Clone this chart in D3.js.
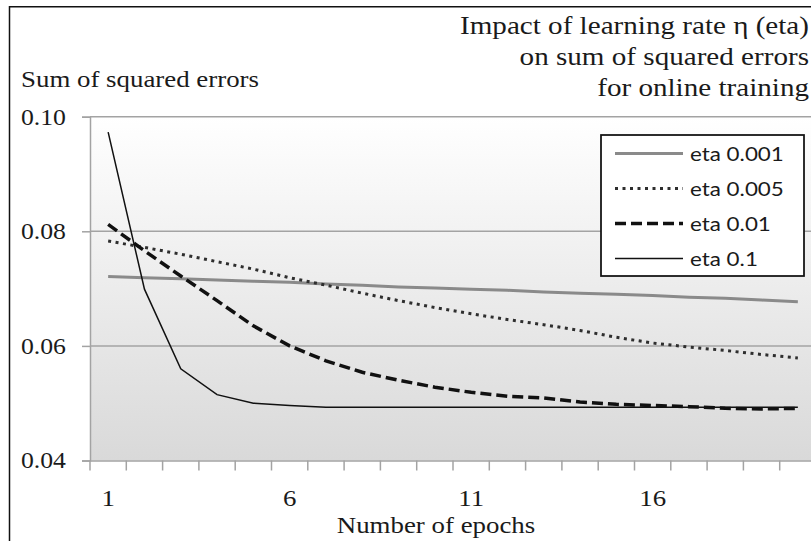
<!DOCTYPE html>
<html>
<head>
<meta charset="utf-8">
<script src="https://cdn.jsdelivr.net/npm/d3@7"></script>
<style>
  html, body { margin: 0; padding: 0; background: #fff; overflow: hidden; }
  svg { display: block; }
  .serif { font-family: "Liberation Serif", "DejaVu Serif", serif; }
  .sans { font-family: Lato, "Open Sans", "Liberation Sans", sans-serif; }
</style>
</head>
<body>
<svg id="chart" width="811" height="541"></svg>
<script>
// ---- data ----
const epochs = [1,2,3,4,5,6,7,8,9,10,11,12,13,14,15,16,17,18,19,20];
const xTickLabels = [1, 6, 11, 16];
const yTicks = [0.04, 0.06, 0.08, 0.10];
const seriesNames = ["eta 0.001", "eta 0.005", "eta 0.01", "eta 0.1"];
const eta0001 = [0.0721,0.0719,0.0717,0.0715,0.0713,0.0711,0.0708,0.0706,0.0703,0.0701,
                 0.0699,0.0697,0.0694,0.0692,0.0690,0.0688,0.0685,0.0683,0.0680,0.0677];
const eta0005 = [0.0783,0.0772,0.0760,0.0747,0.0734,0.0719,0.0706,0.0692,0.0679,0.0667,
                 0.0656,0.0646,0.0637,0.0627,0.0615,0.0605,0.0598,0.0592,0.0585,0.0579];
const eta001  = [0.0812,0.0766,0.0722,0.0679,0.0635,0.0600,0.0574,0.0554,0.0540,0.0528,
                 0.0519,0.0512,0.0509,0.0502,0.0498,0.0496,0.0494,0.0491,0.0490,0.0491];
const eta01   = [0.0973,0.0699,0.0560,0.0515,0.0500,0.0496,0.0493,0.0493,0.0493,0.0493,
                 0.0493,0.0493,0.0493,0.0493,0.0493,0.0493,0.0493,0.0493,0.0493,0.0493];
const titleLines = ["Impact of learning rate η (eta)", "on sum of squared errors", "for online training"];
const yAxisTitle = "Sum of squared errors";
const xAxisTitle = "Number of epochs";

// ---- layout ----
const svg = d3.select("#chart");
const L = 90, STEP = 36.3, T = 116.7, B = 460.5;
const R = L + STEP * epochs.length;
const SX = 1.12; // horizontal stretch of the glyphs in the reference

const x = d3.scaleBand().domain(epochs).range([L, R]).paddingInner(0).paddingOuter(0);
const y = d3.scaleLinear().domain([0.04, 0.10]).range([B, T]);

function stretchedText(parent, cls, size, ax, ay, anchor, str) {
  return parent.append("text").attr("class", cls)
    .attr("transform", `translate(${ax},${ay}) scale(${SX},1)`)
    .attr("text-anchor", anchor).attr("font-size", size).attr("fill", "#1a1a1a").text(str);
}

// outer border
svg.append("rect").attr("x", 9.5).attr("y", 6.75).attr("width", 830).attr("height", 560)
  .attr("fill", "#fff").attr("stroke", "#111").attr("stroke-width", 1.5);

// plot gradient
const defs = svg.append("defs");
const grad = defs.append("linearGradient").attr("id", "bg").attr("x1", 0).attr("y1", 0).attr("x2", 0).attr("y2", 1);
grad.append("stop").attr("offset", "0%").attr("stop-color", "#ffffff");
grad.append("stop").attr("offset", "100%").attr("stop-color", "#d9d9d9");
svg.append("rect").attr("x", L).attr("y", T).attr("width", R - L).attr("height", B - T).attr("fill", "url(#bg)");

// gridlines
svg.append("g").selectAll("line").data(yTicks.filter(v => v > 0.04)).join("line")
  .attr("x1", L).attr("x2", R).attr("y1", d => y(d)).attr("y2", d => y(d))
  .attr("stroke", "#a3a3a3").attr("stroke-width", 1.5);

// y axis
const yAxis = d3.axisLeft(y).tickValues(yTicks).tickFormat(d3.format(".2f")).tickSize(8).tickPadding(16);
const gy = svg.append("g").attr("transform", `translate(${L},0)`).call(yAxis);
gy.select(".domain").attr("stroke", "#a3a3a3").attr("stroke-width", 1.5);
gy.selectAll(".tick line").attr("stroke", "#a3a3a3").attr("stroke-width", 1.5);
gy.selectAll(".tick text").attr("class", "serif").attr("font-size", 23).attr("fill", "#1a1a1a")
  .attr("x", -24 / SX).attr("transform", `scale(${SX},1)`);

// x axis
const xAxis = d3.axisBottom(x).tickValues(xTickLabels).tickSize(0).tickPadding(28);
const gx = svg.append("g").attr("transform", `translate(0,${B})`).call(xAxis);
gx.select(".domain").attr("stroke", "#a3a3a3").attr("stroke-width", 1.5);
gx.selectAll(".tick text").attr("class", "serif").attr("font-size", 24).attr("fill", "#1a1a1a")
  .attr("transform", `scale(${SX},1)`);
svg.append("g").selectAll("line").data(epochs).join("line")
  .attr("x1", d => x(d)).attr("x2", d => x(d)).attr("y1", B).attr("y2", B + 10)
  .attr("stroke", "#a3a3a3").attr("stroke-width", 1.5);

// series
const series = [
  { name: seriesNames[0], values: eta0001, color: "#8a8a8a", width: 3,   dash: null },
  { name: seriesNames[1], values: eta0005, color: "#2e2e2e", width: 3,   dash: "3,4.5" },
  { name: seriesNames[2], values: eta001,  color: "#111111", width: 3.5, dash: "11,5" },
  { name: seriesNames[3], values: eta01,   color: "#111111", width: 1.5, dash: null }
];
const line = d3.line().x((d, i) => x(epochs[i]) + x.bandwidth() / 2).y(d => y(d));
svg.append("g").selectAll("path").data(series).join("path")
  .attr("d", s => line(s.values)).attr("fill", "none")
  .attr("stroke", s => s.color).attr("stroke-width", s => s.width)
  .attr("stroke-dasharray", s => s.dash);

// legend
const lg = svg.append("g").attr("transform", "translate(601,135)");
lg.append("rect").attr("width", 203).attr("height", 141).attr("fill", "#fff").attr("stroke", "#111").attr("stroke-width", 1.75);
series.forEach((s, i) => {
  const yy = 18.5 + i * 35;
  lg.append("line").attr("x1", 14).attr("x2", 82).attr("y1", yy).attr("y2", yy)
    .attr("stroke", s.color).attr("stroke-width", s.width).attr("stroke-dasharray", s.dash);
  stretchedText(lg, "sans", 20, 89, yy + 7, "start", s.name);
});

// titles
titleLines.forEach((t, i) => stretchedText(svg, "serif", 26, 809, 34 + i * 31, "end", t));
stretchedText(svg, "serif", 24, 21, 87, "start", yAxisTitle);
stretchedText(svg, "serif", 24, 436, 533, "middle", xAxisTitle);
</script>
</body>
</html>
